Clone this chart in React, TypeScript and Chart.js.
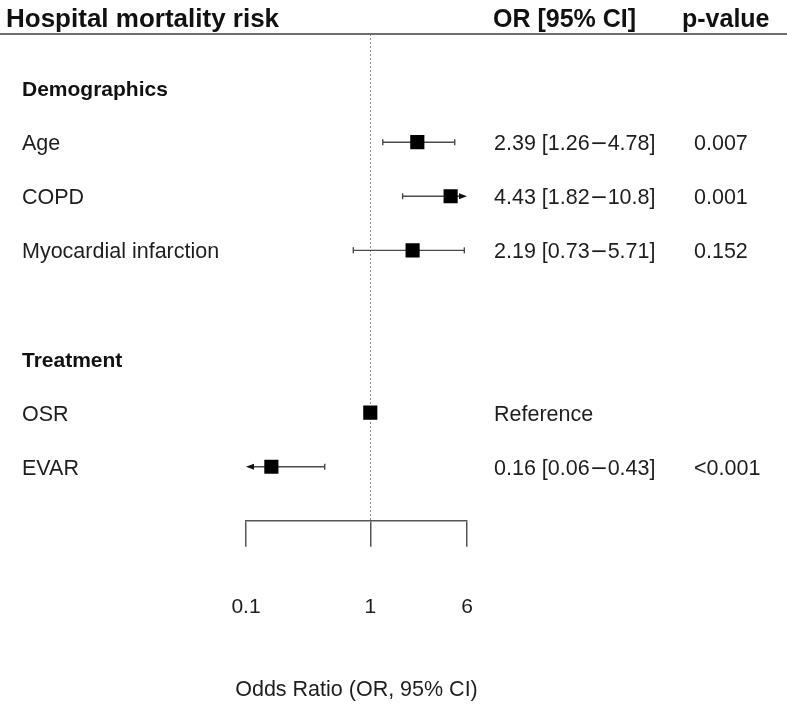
import { useEffect, useRef } from "react";
import { Chart, registerables } from "chart.js";

Chart.register(...registerables);

// Forest plot data: one entry per row, top to bottom
const rowLabels = [
  "Demographics",
  "Age",
  "COPD",
  "Myocardial infarction",
  "",
  "Treatment",
  "OSR",
  "EVAR",
];
const sectionRows = [0, 5];
const oddsRatios: (number | null)[] = [null, 2.39, 4.43, 2.19, null, null, 1, 0.16];
const ciLower: (number | null)[] = [null, 1.26, 1.82, 0.73, null, null, null, 0.06];
const ciUpper: (number | null)[] = [null, 4.78, 10.8, 5.71, null, null, null, 0.43];
const orLabels = [
  "",
  "2.39 [1.26\u22124.78]",
  "4.43 [1.82\u221210.8]",
  "2.19 [0.73\u22125.71]",
  "",
  "",
  "Reference",
  "0.16 [0.06\u22120.43]",
];
const pValues = ["", "0.007", "0.001", "0.152", "", "", "", "<0.001"];
const xTicks = [0.1, 1, 6];

const plotTitle = "Hospital mortality risk";
const orHeader = "OR [95% CI]";
const pHeader = "p-value";
const xAxisTitle = "Odds Ratio (OR, 95% CI)";

const FONT = "'Liberation Sans', Arial, Helvetica, sans-serif";
const DASH_FONT = "'DejaVu Sans', sans-serif";
const TEXT = "#1e1e1e";

// draws a label, setting the range dash in a font with a longer minus glyph
function drawRangeText(ctx: CanvasRenderingContext2D, text: string, x: number, y: number, size: number) {
  const parts = text.split("\u2212");
  let cx = x;
  parts.forEach((part, idx) => {
    ctx.font = `${size}px ${FONT}`;
    ctx.fillText(part, cx, y);
    cx += ctx.measureText(part).width;
    if (idx < parts.length - 1) {
      ctx.font = `${size}px ${DASH_FONT}`;
      ctx.fillText("\u2212", cx, y);
      cx += ctx.measureText("\u2212").width;
    }
  });
}

const forestPlugin = {
  id: "forestDecor",
  beforeDatasetsDraw(chart: any) {
    const { ctx, chartArea, scales } = chart;
    const xs = scales.x;
    const ys = scales.y;
    ctx.save();

    // dotted reference line at OR = 1
    const x1 = Math.round(xs.getPixelForValue(1)) + 0.5;
    ctx.strokeStyle = "#8a8a8a";
    ctx.lineWidth = 1;
    ctx.setLineDash([2, 2]);
    ctx.beginPath();
    ctx.moveTo(x1, chartArea.top);
    ctx.lineTo(x1, chartArea.bottom);
    ctx.stroke();
    ctx.setLineDash([]);

    // confidence intervals, clipped to the axis range with arrows
    ctx.strokeStyle = "#4a4a4a";
    ctx.fillStyle = "#111";
    ctx.lineWidth = 1.4;
    for (let i = 0; i < rowLabels.length; i++) {
      const lo = ciLower[i];
      const hi = ciUpper[i];
      if (lo == null || hi == null) continue;
      const y = ys.getPixelForValue(i);
      const loClip = lo < xs.min;
      const hiClip = hi > xs.max;
      const px1 = xs.getPixelForValue(Math.max(lo, xs.min));
      const px2 = xs.getPixelForValue(Math.min(hi, xs.max));
      ctx.beginPath();
      ctx.moveTo(loClip ? px1 + 6 : px1, y);
      ctx.lineTo(hiClip ? px2 - 6 : px2, y);
      ctx.stroke();
      if (loClip) {
        ctx.beginPath();
        ctx.moveTo(px1, y);
        ctx.lineTo(px1 + 8, y - 3);
        ctx.lineTo(px1 + 8, y + 3);
        ctx.closePath();
        ctx.fill();
      } else {
        ctx.beginPath();
        ctx.moveTo(px1, y - 3);
        ctx.lineTo(px1, y + 3);
        ctx.stroke();
      }
      if (hiClip) {
        ctx.beginPath();
        ctx.moveTo(px2, y);
        ctx.lineTo(px2 - 8, y - 3);
        ctx.lineTo(px2 - 8, y + 3);
        ctx.closePath();
        ctx.fill();
      } else {
        ctx.beginPath();
        ctx.moveTo(px2, y - 3);
        ctx.lineTo(px2, y + 3);
        ctx.stroke();
      }
    }
    ctx.restore();
  },
  afterDraw(chart: any) {
    const { ctx, chartArea, scales, width } = chart;
    const ys = scales.y;
    ctx.save();

    // header row and rule
    ctx.fillStyle = "#111";
    ctx.textBaseline = "alphabetic";
    ctx.textAlign = "left";
    ctx.font = `bold 26px ${FONT}`;
    ctx.fillText(plotTitle, 6, 27);
    ctx.font = `bold 25px ${FONT}`;
    ctx.fillText(orHeader, 493, 27);
    ctx.fillText(pHeader, 682, 27);

    ctx.strokeStyle = "#6e6e6e";
    ctx.lineWidth = 2;
    ctx.beginPath();
    ctx.moveTo(0, chartArea.top);
    ctx.lineTo(width, chartArea.top);
    ctx.stroke();

    // row labels and value columns
    for (let i = 0; i < rowLabels.length; i++) {
      const y = ys.getPixelForValue(i) + 8;
      const bold = sectionRows.includes(i);
      ctx.fillStyle = bold ? "#111" : TEXT;
      ctx.font = `${bold ? "bold 21px" : "21.5px"} ${FONT}`;
      if (rowLabels[i]) ctx.fillText(rowLabels[i], 22, y);
      ctx.fillStyle = TEXT;
      if (orLabels[i]) drawRangeText(ctx, orLabels[i], 494, y, 21.5);
      ctx.font = `21.5px ${FONT}`;
      if (pValues[i]) ctx.fillText(pValues[i], 694, y);
    }

    // x axis title, centred under the plotting range
    ctx.font = `21.5px ${FONT}`;
    ctx.textAlign = "center";
    ctx.fillStyle = TEXT;
    ctx.fillText(xAxisTitle, (chartArea.left + chartArea.right) / 2, 696);
    ctx.restore();
  },
};

export default function App() {
  const canvasRef = useRef<HTMLCanvasElement | null>(null);

  useEffect(() => {
    document.body.style.margin = "0";
    const canvas = canvasRef.current;
    if (!canvas) return;

    const points = oddsRatios
      .map((v, i) => (v == null ? null : { x: v, y: i }))
      .filter((p) => p !== null) as { x: number; y: number }[];

    const chart = new Chart(canvas, {
      type: "scatter",
      data: {
        datasets: [
          {
            data: points,
            pointStyle: "rect",
            pointRadius: 10,
            pointHoverRadius: 10,
            backgroundColor: "#000",
            borderColor: "#000",
            borderWidth: 0,
          },
        ],
      },
      options: {
        animation: false,
        responsive: true,
        maintainAspectRatio: false,
        layout: { padding: { left: 246, right: 320, top: 34, bottom: 37 } },
        plugins: {
          legend: { display: false },
          tooltip: { enabled: false },
        },
        scales: {
          x: {
            type: "logarithmic",
            position: "bottom",
            min: 0.1,
            max: 6,
            afterBuildTicks: (scale: any) => {
              scale.ticks = xTicks.map((v) => ({ value: v }));
            },
            ticks: {
              callback: (v: any) => String(v),
              font: { family: FONT, size: 21 },
              color: TEXT,
              padding: 48,
              maxRotation: 0,
              autoSkip: false,
            },
            grid: {
              drawOnChartArea: false,
              drawTicks: true,
              tickLength: 26,
              color: "#555",
              lineWidth: 1.5,
            },
            border: { display: true, color: "#555", width: 1.5 },
            title: { display: false },
          },
          y: {
            type: "linear",
            min: -1,
            max: 8,
            reverse: true,
            display: false,
          },
        },
      },
      plugins: [forestPlugin],
    } as any);

    return () => chart.destroy();
  }, []);

  return (
    <div style={{ position: "relative", width: 787, height: 705, background: "#fff" }}>
      <canvas ref={canvasRef} />
    </div>
  );
}
